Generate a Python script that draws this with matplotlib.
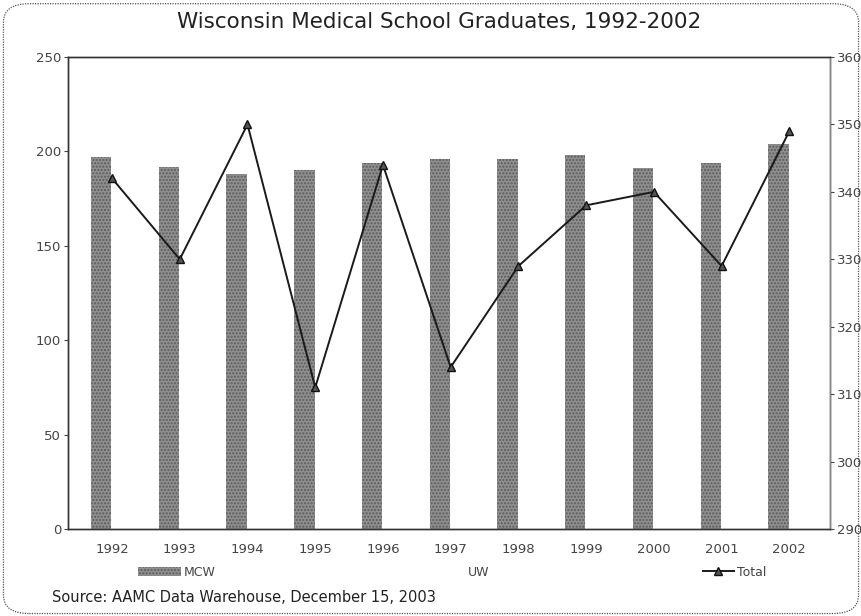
import matplotlib
matplotlib.use("Agg")
import matplotlib.pyplot as plt
from matplotlib.patches import FancyBboxPatch
import numpy as np

years = ["1992", "1993", "1994", "1995", "1996", "1997", "1998", "1999", "2000", "2001", "2002"]
mcw = [197, 192, 188, 190, 194, 196, 196, 198, 191, 194, 204]
total = [342, 330, 350, 311, 344, 314, 329, 338, 340, 329, 349]
uw = [t - m for t, m in zip(total, mcw)]
left_ticks = [0, 50, 100, 150, 200, 250]
right_ticks = [290, 300, 310, 320, 330, 340, 350, 360]

plt.rcParams['font.family'] = ['DejaVu Sans']
fig = plt.figure(figsize=(8.62, 6.16), dpi=100)
fig.patch.set_facecolor('white')

border = FancyBboxPatch((0.004, 0.004), 0.992, 0.99, boxstyle="round,pad=0,rounding_size=0.03",
                        transform=fig.transFigure, fill=False, edgecolor='#555555',
                        linewidth=0.9, linestyle=(0, (1, 1)))
fig.patches.append(border)

# axes: x 68..830 px, y 57..529 px
ax = fig.add_axes([68/862, (616-529)/616, (830-68)/862, (529-57)/616])
x = np.arange(len(years))
w = 0.30
ax.bar(x - 0.16, mcw, w, color='#8f8f8f', edgecolor='#5c5c5c', hatch='.....', linewidth=0, label='MCW')
ax.bar(x + 0.16, uw, w, color='white', edgecolor='white', linewidth=0, label='UW')
ax.set_ylim(0, 250)
ax.set_yticks(left_ticks)
ax.set_xlim(-0.65, 10.6)
ax.set_xticks(x)
ax.set_xticklabels(years)

ax2 = ax.twinx()
ax2.plot(x, total, color='#1a1a1a', linewidth=1.4, marker='^', markersize=6,
         markerfacecolor='#555555', markeredgecolor='#111111', label='Total')
ax2.set_ylim(290, 360)
ax2.set_yticks(right_ticks)

for a in (ax, ax2):
    for s in a.spines.values():
        s.set_color('#333333')
        s.set_linewidth(1.0)
    a.tick_params(axis='both', labelsize=9.5, colors='#444444', length=3, width=0.8, direction='out')
ax2.spines['right'].set_color('#888888')
ax.tick_params(axis='x', length=0, pad=10)
ax.tick_params(axis='y', pad=2)
ax2.tick_params(axis='y', pad=2)

fig.text(0.51, 1 - 22/616, "Wisconsin Medical School Graduates, 1992-2002", ha='center', va='center',
         fontsize=15.5, color='#222222')

h1, l1 = ax.get_legend_handles_labels()
h2, l2 = ax2.get_legend_handles_labels()
leg1 = fig.legend([h1[0]], [l1[0]], loc='center', bbox_to_anchor=(0.205, 1 - 572/616), frameon=False,
                  fontsize=9, handlelength=3.4, handletextpad=0.2)
fig.text(0.555, 1 - 572/616, "UW", ha='center', va='center', fontsize=9, color='#444444')
leg3 = fig.legend(h2, l2, loc='center', bbox_to_anchor=(0.852, 1 - 572/616), frameon=False,
                  fontsize=9, handlelength=2.5, handletextpad=0.2)
for t in leg1.get_texts() + leg3.get_texts():
    t.set_color('#444444')

fig.text(52/862, 1 - 598/616, "Source: AAMC Data Warehouse, December 15, 2003", ha='left', va='center',
         fontsize=10.5, color='#222222')

fig.savefig("out.png", dpi=100)
